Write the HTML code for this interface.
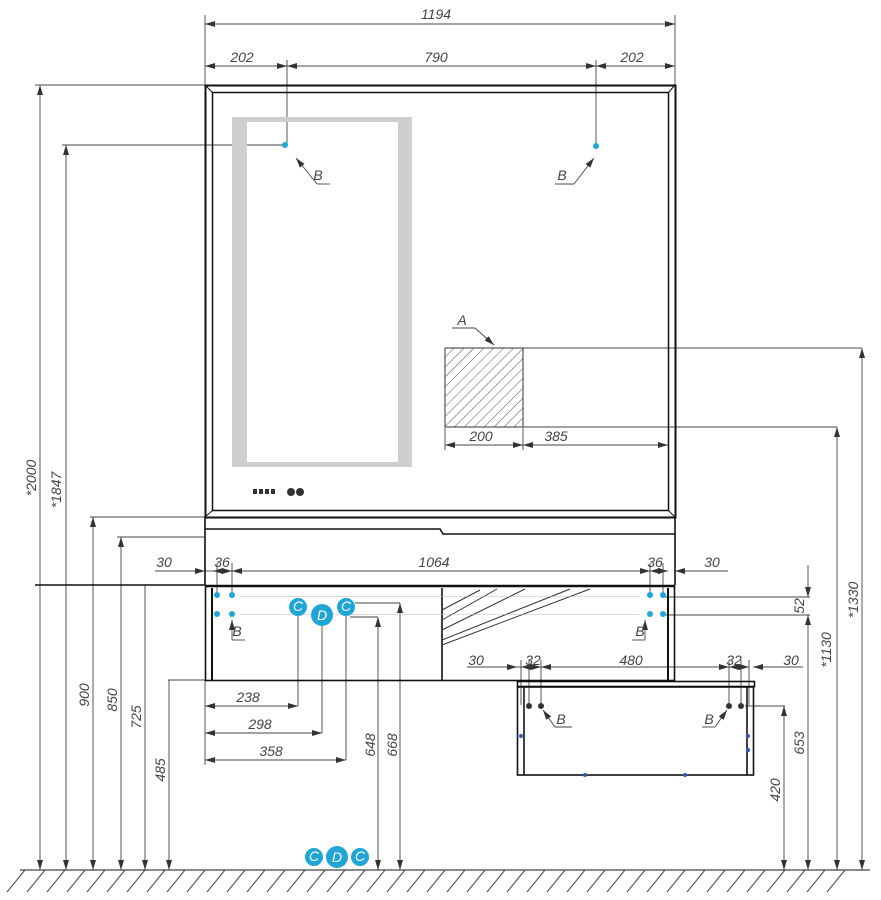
<!DOCTYPE html>
<html><head><meta charset="utf-8"><style>
html,body{margin:0;padding:0;background:#fff}
svg{display:block}
text{font-family:"Liberation Sans",sans-serif;font-style:italic;font-size:14px;fill:#444}
</style></head><body>
<svg width="881" height="900" viewBox="0 0 881 900" xmlns="http://www.w3.org/2000/svg">
<defs>
<marker id="a" viewBox="0 0 10 6" refX="10" refY="3" markerWidth="10" markerHeight="6" orient="auto-start-reverse" markerUnits="userSpaceOnUse"><path d="M0,0L10,3L0,6z" fill="#333"/></marker>
<pattern id="h" width="7" height="7" patternUnits="userSpaceOnUse" patternTransform="rotate(45)"><line x1="0" y1="0" x2="0" y2="7" stroke="#555" stroke-width="1"/></pattern>
</defs>
<g stroke="#444" stroke-width="0.9" fill="none">
<!-- top dims -->
<line x1="205" y1="15" x2="205" y2="85"/><line x1="675" y1="15" x2="675" y2="85"/>
<line x1="205" y1="24" x2="675" y2="24" marker-start="url(#a)" marker-end="url(#a)"/>
<line x1="205" y1="66" x2="675" y2="66"/>
<line x1="287" y1="60" x2="287" y2="145"/><line x1="596" y1="60" x2="596" y2="146"/>
<line x1="205" y1="66" x2="287" y2="66" marker-start="url(#a)" marker-end="url(#a)"/>
<line x1="287" y1="66" x2="596" y2="66" marker-start="url(#a)" marker-end="url(#a)"/>
<line x1="596" y1="66" x2="675" y2="66" marker-start="url(#a)" marker-end="url(#a)"/>
<!-- left verticals -->
<line x1="35" y1="85" x2="205" y2="85"/>
<line x1="40" y1="85" x2="40" y2="870" marker-start="url(#a)" marker-end="url(#a)"/>
<line x1="62" y1="145" x2="285" y2="145"/>
<line x1="66" y1="145" x2="66" y2="870" marker-start="url(#a)" marker-end="url(#a)"/>
<line x1="90" y1="517" x2="205" y2="517"/>
<line x1="93" y1="517" x2="93" y2="870" marker-start="url(#a)" marker-end="url(#a)"/>
<line x1="117" y1="537" x2="205" y2="537"/>
<line x1="121" y1="537" x2="121" y2="870" marker-start="url(#a)" marker-end="url(#a)"/>
<line x1="145" y1="585" x2="145" y2="870" marker-end="url(#a)"/>
<line x1="168" y1="680" x2="205" y2="680"/>
<line x1="169" y1="680" x2="169" y2="870" marker-end="url(#a)"/>
<!-- B leaders top -->
<line x1="296" y1="158" x2="317" y2="184" marker-start="url(#a)"/><line x1="317" y1="184" x2="330" y2="184"/>
<line x1="594" y1="158" x2="574" y2="184" marker-start="url(#a)"/><line x1="574" y1="184" x2="555" y2="184"/>
<!-- A -->
<line x1="452" y1="328" x2="475" y2="328"/><line x1="475" y1="328" x2="494" y2="345" marker-end="url(#a)"/>
<line x1="523" y1="348" x2="862" y2="348"/>
<line x1="862" y1="348" x2="862" y2="870" marker-start="url(#a)" marker-end="url(#a)"/>
<line x1="523" y1="427" x2="837" y2="427"/>
<line x1="837" y1="427" x2="837" y2="870" marker-start="url(#a)" marker-end="url(#a)"/>
<line x1="445" y1="428" x2="445" y2="450"/><line x1="523" y1="428" x2="523" y2="450"/>
<line x1="445" y1="445" x2="523" y2="445" marker-start="url(#a)" marker-end="url(#a)"/>
<line x1="523" y1="445" x2="668" y2="445" marker-start="url(#a)" marker-end="url(#a)"/>
<!-- 30 36 1064 -->
<line x1="155" y1="571" x2="205" y2="571" marker-end="url(#a)"/>
<line x1="205" y1="571" x2="213" y2="571"/>
<line x1="213" y1="571" x2="232" y2="571" marker-start="url(#a)" marker-end="url(#a)"/>
<line x1="232" y1="571" x2="650" y2="571" marker-start="url(#a)" marker-end="url(#a)"/>
<line x1="650" y1="571" x2="668" y2="571" marker-start="url(#a)" marker-end="url(#a)"/>
<line x1="675" y1="571" x2="728" y2="571" marker-start="url(#a)"/>
<line x1="217" y1="563" x2="217" y2="595"/><line x1="232" y1="563" x2="232" y2="595"/>
<line x1="650" y1="563" x2="650" y2="595"/><line x1="663" y1="563" x2="663" y2="595"/>
<!-- right dims -->
<line x1="663" y1="597" x2="810" y2="597"/><line x1="663" y1="615" x2="810" y2="615"/>
<line x1="808" y1="565" x2="808" y2="597" marker-end="url(#a)"/>
<line x1="808" y1="615" x2="808" y2="870" marker-start="url(#a)" marker-end="url(#a)"/>
<line x1="745" y1="706" x2="785" y2="706"/>
<line x1="784" y1="706" x2="784" y2="870" marker-start="url(#a)" marker-end="url(#a)"/>
<!-- B leaders cabinet -->
<line x1="232" y1="640" x2="232" y2="620" marker-end="url(#a)"/><line x1="232" y1="640" x2="245" y2="640"/><line x1="232" y1="640" x2="232" y2="640"/>
<line x1="645" y1="640" x2="645" y2="620" marker-end="url(#a)"/><line x1="645" y1="640" x2="632" y2="640"/>
<!-- C D C leaders -->
<line x1="298" y1="615" x2="298" y2="706"/><line x1="322" y1="625" x2="322" y2="733"/><line x1="346" y1="615" x2="346" y2="760"/>
<line x1="205" y1="680" x2="205" y2="765"/>
<line x1="205" y1="706" x2="298" y2="706" marker-start="url(#a)" marker-end="url(#a)"/>
<line x1="205" y1="733" x2="322" y2="733" marker-start="url(#a)" marker-end="url(#a)"/>
<line x1="205" y1="760" x2="346" y2="760" marker-start="url(#a)" marker-end="url(#a)"/>
<line x1="350" y1="617" x2="378" y2="617"/><line x1="355" y1="603" x2="400" y2="603"/>
<line x1="378" y1="617" x2="378" y2="870" marker-start="url(#a)" marker-end="url(#a)"/>
<line x1="400" y1="603" x2="400" y2="870" marker-start="url(#a)" marker-end="url(#a)"/>
<!-- drawer dims -->
<line x1="467" y1="667" x2="517" y2="667" marker-end="url(#a)"/>
<line x1="517" y1="667" x2="521" y2="667"/>
<line x1="521" y1="667" x2="541" y2="667" marker-start="url(#a)" marker-end="url(#a)"/>
<line x1="541" y1="667" x2="729" y2="667" marker-start="url(#a)" marker-end="url(#a)"/>
<line x1="729" y1="667" x2="749" y2="667" marker-start="url(#a)" marker-end="url(#a)"/>
<line x1="753" y1="667" x2="803" y2="667" marker-start="url(#a)"/>
<line x1="521" y1="660" x2="521" y2="705"/><line x1="529" y1="660" x2="529" y2="705"/><line x1="541" y1="660" x2="541" y2="705"/>
<line x1="729" y1="660" x2="729" y2="705"/><line x1="741" y1="660" x2="741" y2="705"/><line x1="749" y1="660" x2="749" y2="705"/>
<line x1="543" y1="710" x2="555" y2="727" marker-start="url(#a)"/><line x1="555" y1="727" x2="572" y2="727"/>
<line x1="727" y1="710" x2="715" y2="727" marker-start="url(#a)"/><line x1="715" y1="727" x2="702" y2="727"/>
</g>
<!-- mirror -->
<g stroke="#111" fill="none">
<rect x="205.5" y="85.5" width="470" height="432" stroke-width="2"/>
<rect x="212.5" y="92.5" width="456" height="418" stroke-width="1.5"/>
<line x1="205" y1="85" x2="213" y2="93" stroke-width="1"/><line x1="675" y1="85" x2="668" y2="93" stroke-width="1"/>
<line x1="205" y1="517" x2="213" y2="510" stroke-width="1"/><line x1="675" y1="517" x2="668" y2="510" stroke-width="1"/>
</g>
<path d="M232,117H412V467H232Z M247,122V462H398V122Z" fill="#cfcfcf" fill-rule="evenodd"/>
<g fill="#333"><rect x="253" y="489" width="4" height="5"/><rect x="259" y="489" width="4" height="5"/><rect x="265" y="489" width="4" height="5"/><rect x="271" y="489" width="4" height="5"/>
<circle cx="291" cy="492" r="4"/><circle cx="300" cy="492" r="4"/></g>
<rect x="445" y="348" width="78" height="79" fill="url(#h)" stroke="#333" stroke-width="1"/>
<!-- shelf -->
<g stroke="#111" fill="none" stroke-width="1.6">
<line x1="205" y1="517" x2="205" y2="585"/><line x1="675" y1="517" x2="675" y2="585"/>
<polyline points="205,529 440,529 443,534 675,534"/>
<line x1="35" y1="585" x2="205" y2="585"/>
<line x1="205" y1="586" x2="675" y2="586" stroke-width="2.5"/>
<rect x="205.5" y="586" width="469" height="94.5" stroke-width="1.6"/>
<line x1="212" y1="588" x2="212" y2="680" stroke-width="2"/><line x1="668" y1="588" x2="668" y2="680" stroke-width="2"/>
<line x1="442" y1="588" x2="442" y2="680"/>
</g>
<g stroke="#333" stroke-width="1" fill="none">
<line x1="442" y1="610" x2="480" y2="590"/><line x1="442" y1="620" x2="497" y2="589"/>
<line x1="442" y1="630" x2="525" y2="589"/><line x1="442" y1="640" x2="570" y2="589"/><line x1="442" y1="645" x2="590" y2="589"/>
</g>
<g fill="#bbb"><rect x="240" y="596" width="400" height="1" opacity="0.5"/><rect x="240" y="614" width="400" height="1" opacity="0.5"/></g>
<!-- drawer -->
<g stroke="#111" fill="none" stroke-width="1.6">
<rect x="517.5" y="681.5" width="237" height="5"/>
<rect x="517.5" y="687" width="236" height="88"/>
<line x1="524" y1="687" x2="524" y2="775"/><line x1="747" y1="687" x2="747" y2="775"/>
</g>
<g fill="#333"><circle cx="529" cy="706" r="3"/><circle cx="541" cy="706" r="3"/><circle cx="729" cy="706" r="3"/><circle cx="741" cy="706" r="3"/></g>
<g fill="#3355bb"><circle cx="521" cy="736" r="2"/><circle cx="585" cy="775" r="2"/><circle cx="685" cy="775" r="2"/><circle cx="748" cy="736" r="2"/><circle cx="748" cy="750" r="2"/></g>
<!-- blue dots -->
<g fill="#1fa5d6"><circle cx="285" cy="145" r="3"/><circle cx="596" cy="146" r="3"/>
<circle cx="217" cy="595" r="3"/><circle cx="232" cy="595" r="3"/><circle cx="217" cy="614" r="3"/><circle cx="232" cy="614" r="3"/>
<circle cx="650" cy="595" r="3"/><circle cx="663" cy="595" r="3"/><circle cx="650" cy="614" r="3"/><circle cx="663" cy="614" r="3"/>
<circle cx="298" cy="607" r="9"/><circle cx="322" cy="615" r="11"/><circle cx="346" cy="607" r="9"/>
<circle cx="314" cy="857" r="9"/><circle cx="337" cy="857" r="11"/><circle cx="360" cy="857" r="9"/></g>
<g style="font-style:normal;font-size:12px" text-anchor="middle">
<text x="298" y="611" style="fill:#fff">C</text><text x="322" y="620" style="fill:#fff;font-size:14px">D</text><text x="346" y="611" style="fill:#fff">C</text>
<text x="314" y="861" style="fill:#fff">C</text><text x="337" y="862" style="fill:#fff;font-size:14px">D</text><text x="360" y="861" style="fill:#fff">C</text></g>
<!-- floor -->
<line x1="20" y1="870" x2="870" y2="870" stroke="#444" stroke-width="1.2"/>
<g stroke="#444" stroke-width="1">
<path d="M25,870l-18,22M45,870l-18,22M65,870l-18,22M85,870l-18,22M105,870l-18,22M125,870l-18,22M145,870l-18,22M165,870l-18,22M185,870l-18,22M205,870l-18,22M225,870l-18,22M245,870l-18,22M265,870l-18,22M285,870l-18,22M305,870l-18,22M325,870l-18,22M345,870l-18,22M365,870l-18,22M385,870l-18,22M405,870l-18,22M425,870l-18,22M445,870l-18,22M465,870l-18,22M485,870l-18,22M505,870l-18,22M525,870l-18,22M545,870l-18,22M565,870l-18,22M585,870l-18,22M605,870l-18,22M625,870l-18,22M645,870l-18,22M665,870l-18,22M685,870l-18,22M705,870l-18,22M725,870l-18,22M745,870l-18,22M765,870l-18,22M785,870l-18,22M805,870l-18,22M825,870l-18,22M845,870l-18,22"/>
</g>
<!-- labels -->
<g text-anchor="middle">
<text x="436" y="19">1194</text><text x="242" y="62">202</text><text x="436" y="62">790</text><text x="632" y="62">202</text>
<text x="318" y="180">B</text><text x="562" y="180">B</text><text x="462" y="325">A</text>
<text x="481" y="441">200</text><text x="556" y="441">385</text>
<text x="164" y="567">30</text><text x="222" y="567">36</text><text x="434" y="567">1064</text><text x="655" y="567">36</text><text x="712" y="567">30</text>
<text x="237" y="636">B</text><text x="640" y="636">B</text>
<text x="476" y="665">30</text><text x="533" y="665">32</text><text x="631" y="665">480</text><text x="734" y="665">32</text><text x="791" y="665">30</text>
<text x="561" y="724">B</text><text x="709" y="724">B</text>
<text x="248" y="702">238</text><text x="260" y="729">298</text><text x="271" y="756">358</text>
</g>
<g text-anchor="middle">
<text transform="translate(36,478) rotate(-90)">*2000</text>
<text transform="translate(61,490) rotate(-90)">*1847</text>
<text transform="translate(89,695) rotate(-90)">900</text>
<text transform="translate(117,700) rotate(-90)">850</text>
<text transform="translate(141,717) rotate(-90)">725</text>
<text transform="translate(165,770) rotate(-90)">485</text>
<text transform="translate(375,745) rotate(-90)">648</text>
<text transform="translate(397,745) rotate(-90)">668</text>
<text transform="translate(780,790) rotate(-90)">420</text>
<text transform="translate(804,743) rotate(-90)">653</text>
<text transform="translate(804,606) rotate(-90)">52</text>
<text transform="translate(831,650) rotate(-90)">*1130</text>
<text transform="translate(858,600) rotate(-90)">*1330</text>
</g>
</svg>
</body></html>
